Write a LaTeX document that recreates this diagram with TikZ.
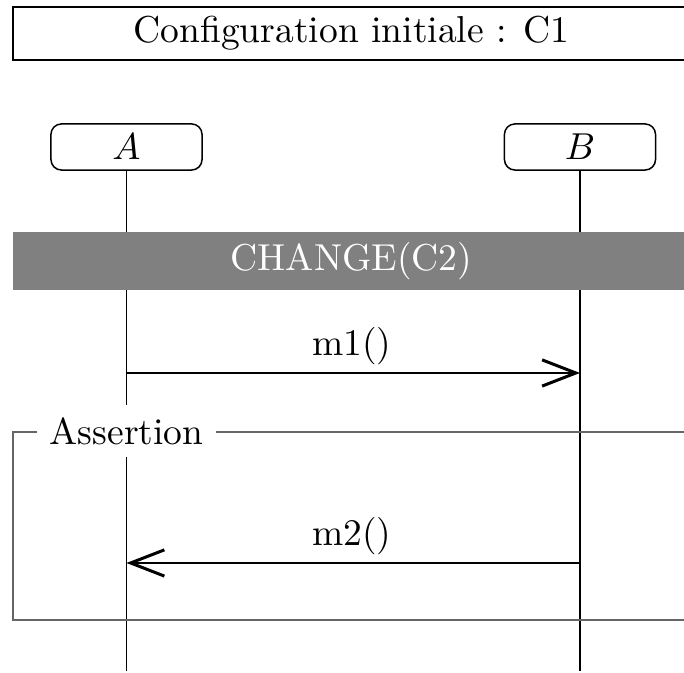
\documentclass[tikz,border=0pt]{standalone}
\usetikzlibrary{arrows.meta}
\begin{document}
\begin{tikzpicture}[x=0.2667pt,y=-0.2667pt,
  lifebox/.style={draw=black,line width=0.4pt,rounded corners=2.8pt,minimum width=40.3pt,minimum height=12.3pt,inner sep=0pt},
  lifeline/.style={line width=0.3pt,draw=black},
  msg/.style={line width=0.3pt,draw=black,-{Straight Barb[length=9pt,width=7pt,line width=0.8pt]}},
  framecol/.style={draw=black!60,line width=0.5pt},
  msglabel/.style={anchor=base,inner sep=0pt}]
\useasboundingbox (0,0) rectangle (684,673);
% title
\node[draw=black,line width=0.45pt,minimum width=180.6pt,minimum height=14.1pt,inner sep=0pt] (title) at (351.5,33.5) {Configuration initiale : C1};
% participants
\node[lifebox] (A) at (126.5,147) {$A$};
\node[lifebox] (B) at (580,147) {$B$};
\coordinate (Aend) at (126.5,671);
\coordinate (Bend) at (580,671);
\draw[lifeline] (A.south) -- (Aend);
\draw[lifeline] (B.south) -- (Bend);
% change bar
\node[fill=black!50,text=white,minimum width=180.6pt,minimum height=15.5pt,inner sep=0pt] (change) at (351.5,261) {CHANGE(C2)};
% m1
\coordinate (a1) at (126.5,373);
\coordinate (b1) at (580,373);
\draw[msg] (a1) -- (b1);
\node[msglabel] (m1) at (352,356) {m1()};
% assertion frame
\coordinate (ftr) at (690,432);
\coordinate (ftl) at (13,432);
\coordinate (fbl) at (13,620);
\coordinate (fbr) at (690,620);
\draw[framecol] (ftr) -- (ftl) -- (fbl) -- (fbr);
\node[fill=white,inner sep=3.3pt] (assert) at (126.5,431) {Assertion};
% m2
\coordinate (a2) at (126.5,563);
\coordinate (b2) at (580,563);
\draw[msg] (b2) -- (a2);
\node[msglabel] (m2) at (352,546) {m2()};
\end{tikzpicture}
\end{document}
